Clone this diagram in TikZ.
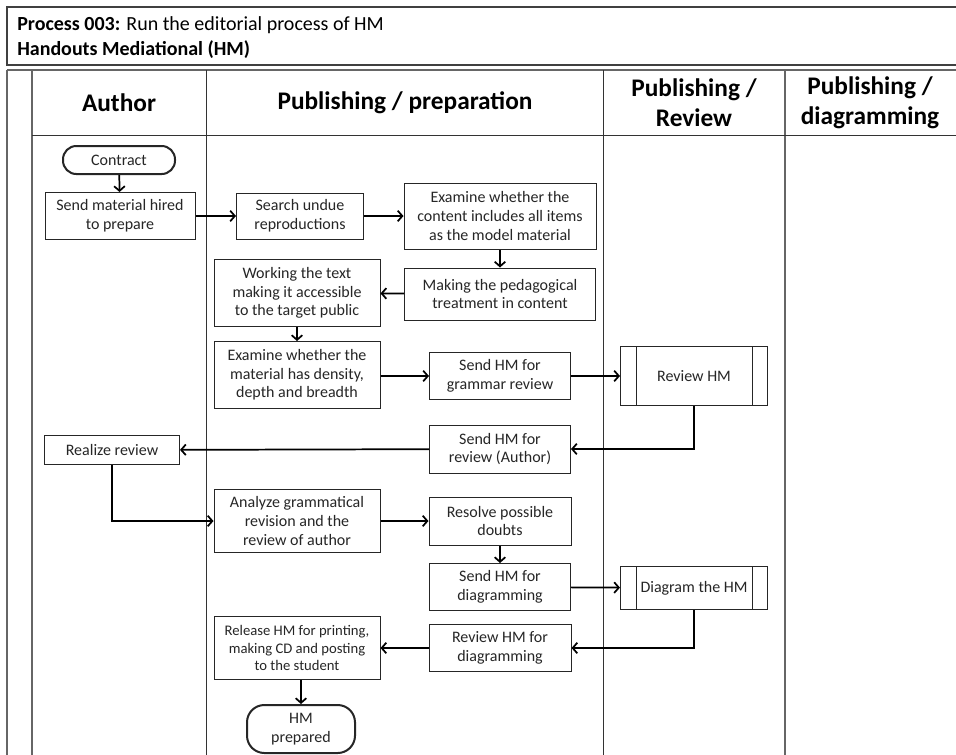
\documentclass[tikz,border=0pt]{standalone}
\usepackage{fontspec}
\setmainfont{Carlito}
\usetikzlibrary{arrows.meta,calc}

\begin{document}
\begin{tikzpicture}[x=0.75pt,y=-0.75pt,
  lane/.style={draw=black!60, line width=1.1pt},
  thinlane/.style={draw=black!80, line width=0.7pt},
  box/.style={draw=black!85, line width=0.75pt, align=center, inner sep=1pt,
    font=\fontsize{12}{14}\selectfont, text=black!85},
  term/.style={box, line width=1.5pt},
  flow/.style={line width=1.3pt, -{Straight Barb[length=3.5pt,width=8pt,line width=1.3pt]}},
  head/.style={font=\fontsize{19}{22.5}\selectfont\bfseries, align=center}
]
\path[use as bounding box] (0,0) rectangle (956,754);
\clip (0,0) rectangle (956,754);
\fill[white] (0,0) rectangle (956,754);

% title block
\draw[draw=black!75, line width=0.9pt] (7,7) rectangle (970,65);
\node[anchor=base west, inner sep=0, font=\fontsize{15}{18}\selectfont] (t1) at (17,30)
  {\textbf{Process 003:} Run the editorial process of HM};
\node[anchor=base west, inner sep=0, font=\fontsize{15}{18}\selectfont\bfseries] (t2) at (17,55)
  {Handouts Mediational (HM)};

% swimlane frame
\draw[lane] (7,70) -- (970,70);
\draw[lane] (7,70) -- (7,760);
\draw[lane] (32,70) -- (32,760);
\draw[thinlane] (206,70) -- (206,760);
\draw[thinlane] (603,70) -- (603,760);
\draw[lane] (785,70) -- (785,760);
\draw[thinlane] (32,135) -- (970,135);

% lane headings
\node[head] (hauth) at (119,103) {Author};
\node[head] (hprep) at (405,103) {Publishing / preparation};
\node[head] (hrev)  at (694,103) {Publishing /\\Review};
\node[head] (hdiag) at (870,103) {Publishing /\\diagramming};

% steps
\node[term, rounded corners=10pt, minimum width=84pt, minimum height=21pt] (contract) at (119,160) {Contract};
\node[box, minimum width=112.5pt, minimum height=35.25pt] (sendmat) at (120,216) {Send material hired\\to prepare};
\node[box, minimum width=95.25pt, minimum height=34.5pt] (search) at (300,216) {Search undue\\reproductions};
\node[box, minimum width=144pt, minimum height=49.5pt] (exacont) at (500,216) {Examine whether the\\content includes all items\\as the model material};
\node[box, minimum width=143.25pt, minimum height=39pt] (pedag) at (500,294) {Making the pedagogical\\treatment in content};
\node[box, minimum width=124.5pt, minimum height=50.25pt] (work) at (297,293) {Working the text\\making it accessible\\to the target public};
\node[box, minimum width=124.5pt, minimum height=50.25pt] (examat) at (297,375) {Examine whether the\\material has density,\\depth and breadth};
\node[box, minimum width=105.75pt, minimum height=35.25pt] (sendgram) at (500,376) {Send HM for\\grammar review};
\node[box, minimum width=110.25pt, minimum height=44.25pt] (revhm) at (694,376) {Review HM};
\node[box, minimum width=105.75pt, minimum height=36pt] (sendauth) at (500,449) {Send HM for\\review (Author)};
\node[box, minimum width=101.25pt, minimum height=21.75pt] (realize) at (112,450) {Realize review};
\node[box, minimum width=124.5pt, minimum height=47.25pt] (analyze) at (297,521) {Analyze grammatical\\revision and the\\review of author};
\node[box, minimum width=106.5pt, minimum height=36pt] (resolve) at (500,521) {Resolve possible\\doubts};
\node[box, minimum width=105.75pt, minimum height=35.25pt] (senddiag) at (500,587) {Send HM for\\diagramming};
\node[box, minimum width=110.25pt, minimum height=32.25pt] (diagram) at (694,588) {Diagram the HM};
\node[box, minimum width=106.5pt, minimum height=35.25pt] (revdiag) at (500,648) {Review HM for\\diagramming};
\node[box, minimum width=124.5pt, minimum height=47.25pt, font=\fontsize{11}{13}\selectfont] (release) at (297,648) {Release HM for printing,\\making CD and posting\\to the student};
\node[term, rounded corners=13pt, minimum width=81pt, minimum height=36pt] (done) at (301,729) {HM\\prepared};

% predefined-process side bars
\foreach \n in {revhm,diagram}{
  \draw[draw=black!85, line width=0.75pt] ($(\n.north west)+(16,0)$) -- ($(\n.south west)+(16,0)$);
  \draw[draw=black!85, line width=0.75pt] ($(\n.north east)+(-16,0)$) -- ($(\n.south east)+(-16,0)$);
}

% flow
\draw[flow] (contract) -- (sendmat);
\draw[flow] (sendmat) -- (search);
\draw[flow] (search) -- (exacont);
\draw[flow] (exacont) -- (pedag);
\draw[flow] (pedag) -- (work);
\draw[flow] (work) -- (examat);
\draw[flow] (examat.east |- sendgram) -- (sendgram);
\draw[flow] (sendgram) -- (revhm);
\draw[flow] (revhm.south) |- (sendauth.east);
\draw[flow] (sendauth) -- (realize);
\draw[flow] (realize.south) |- (analyze.west);
\draw[flow] (analyze) -- (resolve);
\draw[flow] (resolve) -- (senddiag);
\draw[flow] (senddiag) -- (diagram);
\draw[flow] (diagram.south) |- (revdiag.east);
\draw[flow] (revdiag) -- (release);
\draw[flow] (release.south -| done) -- (done);
\end{tikzpicture}
\end{document}
